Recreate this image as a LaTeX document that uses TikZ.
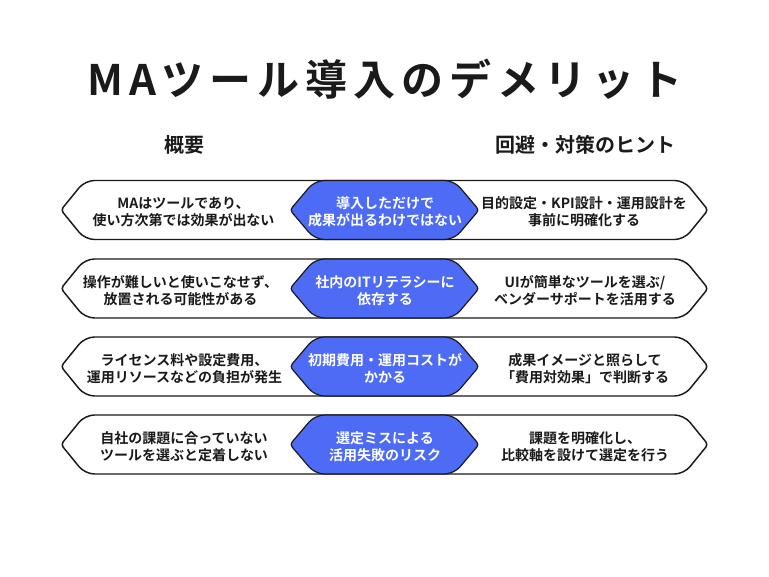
\documentclass[tikz,border=0pt]{standalone}
\usepackage{fontspec}
\setmainfont{Noto Sans CJK JP}[BoldFont={Noto Sans CJK JP Bold}]
\newfontfamily\titlefont{Noto Sans CJK JP Bold}[LetterSpace=14]
\definecolor{accent}{HTML}{4D6BF5}
\definecolor{ink}{HTML}{1A1A1A}
\tikzset{
  outer/.style={draw=ink,line width=1.1pt,fill=white},
  inner/.style={fill=accent,draw=ink,line width=0.9pt},
  body/.style={align=center,font=\fontsize{10.5}{12.9}\selectfont\bfseries,text=ink,inner sep=0pt},
  bodyw/.style={body,text=white},
  head/.style={font=\fontsize{15}{18}\selectfont\bfseries,text=ink,inner sep=0pt},
  tipcorner/.style={rounded corners=2.5pt},
  edgecorner/.style={rounded corners=7pt},
}
\newcommand{\rowshape}[1]{%
  \draw[outer,tipcorner] (61,-#1) [edgecorner] -- (85,-#1+29.5) -- (684,-#1+29.5) [tipcorner] -- (708,-#1) [edgecorner] -- (684,-#1-29.5) -- (85,-#1-29.5) [tipcorner] -- cycle;
  \draw[inner,tipcorner] (290,-#1) [edgecorner] -- (315,-#1+29.5) -- (454,-#1+29.5) [tipcorner] -- (479,-#1) [edgecorner] -- (454,-#1-29.5) -- (315,-#1-29.5) [tipcorner] -- cycle;
}
\begin{document}
\begin{tikzpicture}[x=0.75pt,y=0.75pt]
\useasboundingbox (0,0) rectangle (769,-577);
\node[inner sep=0pt,text=ink] (title) at (385,-79) {\titlefont\fontsize{31.5}{36}\selectfont MAツール導入のデメリット};
\node[head] (h1) at (184,-145) {概要};
\node[head] (h2) at (585,-145) {回避・対策のヒント};
\rowshape{210}
\rowshape{288.5}
\rowshape{366.5}
\rowshape{444.5}
\node[body] (a1) at (183.5,-212) {MAはツールであり、\\使い方次第では効果が出ない};
\node[bodyw] (b1) at (385,-212) {導入しただけで\\成果が出るわけではない};
\node[body] (c1) at (584,-212) {目的設定・KPI設計・運用設計を\\事前に明確化する};
\node[body] (a2) at (180.5,-290.5) {操作が難しいと使いこなせず、\\放置される可能性がある};
\node[bodyw] (b2) at (385,-290.5) {社内のITリテラシーに\\依存する};
\node[body] (c2) at (585,-290.5) {UIが簡単なツールを選ぶ/\\ベンダーサポートを活用する};
\node[body] (a3) at (184.5,-368.5) {ライセンス料や設定費用、\\運用リソースなどの負担が発生};
\node[bodyw] (b3) at (385,-368.5) {初期費用・運用コストが\\かかる};
\node[body] (c3) at (585,-368.5) {成果イメージと照らして\\「費用対効果」で判断する};
\node[body] (a4) at (184,-446.5) {自社の課題に合っていない\\ツールを選ぶと定着しない};
\node[bodyw] (b4) at (385,-446.5) {選定ミスによる\\活用失敗のリスク};
\node[body] (c4) at (585,-446.5) {課題を明確化し、\\比較軸を設けて選定を行う};
\end{tikzpicture}
\end{document}
